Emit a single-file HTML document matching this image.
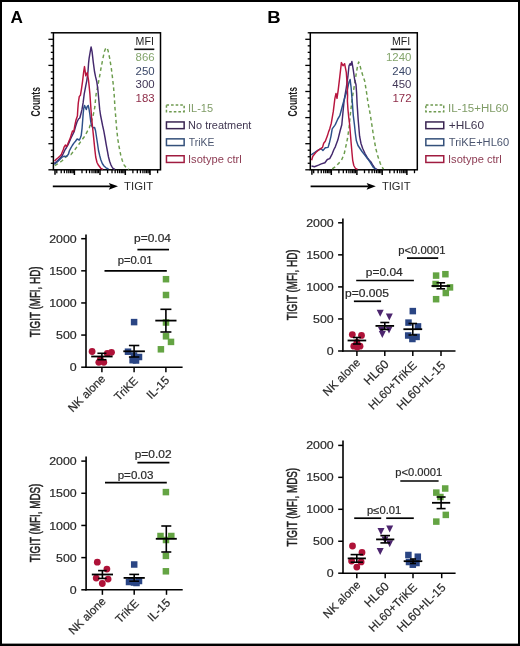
<!DOCTYPE html>
<html><head><meta charset="utf-8"><style>
html,body{margin:0;padding:0;background:#fff;}
svg{display:block;filter:grayscale(0);font-family:"Liberation Sans",sans-serif;}
</style></head><body>
<svg width="520" height="646" viewBox="0 0 520 646">
<rect width="520" height="646" fill="#fff"/>
<rect x="1" y="1" width="518" height="644" fill="none" stroke="#000" stroke-width="2"/>
<rect x="0" y="643.6" width="520" height="2.4" fill="#000"/>
<text transform="translate(10.57,23.10) scale(0.9921,1)" font-size="17.3" font-weight="bold" fill="#000">A</text>
<text transform="translate(267.20,23.10) scale(1.0708,1)" font-size="17.3" font-weight="bold" fill="#000">B</text>
<rect x="53.40" y="32.80" width="107.10" height="137.00" fill="none" stroke="#000" stroke-width="1.5"/>
<line x1="48.40" y1="169.80" x2="53.40" y2="169.80" stroke="#000" stroke-width="1.3" />
<line x1="50.80" y1="163.28" x2="53.40" y2="163.28" stroke="#000" stroke-width="1.3" />
<line x1="50.80" y1="156.75" x2="53.40" y2="156.75" stroke="#000" stroke-width="1.3" />
<line x1="50.80" y1="150.23" x2="53.40" y2="150.23" stroke="#000" stroke-width="1.3" />
<line x1="48.40" y1="143.70" x2="53.40" y2="143.70" stroke="#000" stroke-width="1.3" />
<line x1="50.80" y1="137.18" x2="53.40" y2="137.18" stroke="#000" stroke-width="1.3" />
<line x1="50.80" y1="130.65" x2="53.40" y2="130.65" stroke="#000" stroke-width="1.3" />
<line x1="50.80" y1="124.13" x2="53.40" y2="124.13" stroke="#000" stroke-width="1.3" />
<line x1="48.40" y1="117.60" x2="53.40" y2="117.60" stroke="#000" stroke-width="1.3" />
<line x1="50.80" y1="111.08" x2="53.40" y2="111.08" stroke="#000" stroke-width="1.3" />
<line x1="50.80" y1="104.55" x2="53.40" y2="104.55" stroke="#000" stroke-width="1.3" />
<line x1="50.80" y1="98.03" x2="53.40" y2="98.03" stroke="#000" stroke-width="1.3" />
<line x1="48.40" y1="91.50" x2="53.40" y2="91.50" stroke="#000" stroke-width="1.3" />
<line x1="50.80" y1="84.98" x2="53.40" y2="84.98" stroke="#000" stroke-width="1.3" />
<line x1="50.80" y1="78.45" x2="53.40" y2="78.45" stroke="#000" stroke-width="1.3" />
<line x1="50.80" y1="71.93" x2="53.40" y2="71.93" stroke="#000" stroke-width="1.3" />
<line x1="48.40" y1="65.40" x2="53.40" y2="65.40" stroke="#000" stroke-width="1.3" />
<line x1="50.80" y1="58.88" x2="53.40" y2="58.88" stroke="#000" stroke-width="1.3" />
<line x1="50.80" y1="52.35" x2="53.40" y2="52.35" stroke="#000" stroke-width="1.3" />
<line x1="50.80" y1="45.83" x2="53.40" y2="45.83" stroke="#000" stroke-width="1.3" />
<line x1="48.40" y1="39.30" x2="53.40" y2="39.30" stroke="#000" stroke-width="1.3" />
<line x1="50.80" y1="32.78" x2="53.40" y2="32.78" stroke="#000" stroke-width="1.3" />
<line x1="55.00" y1="169.80" x2="55.00" y2="174.80" stroke="#000" stroke-width="1.5" />
<line x1="56.79" y1="169.80" x2="56.79" y2="173.20" stroke="#000" stroke-width="1.3" />
<line x1="61.22" y1="169.80" x2="61.22" y2="173.20" stroke="#000" stroke-width="1.3" />
<line x1="64.37" y1="169.80" x2="64.37" y2="173.20" stroke="#000" stroke-width="1.3" />
<line x1="66.81" y1="169.80" x2="66.81" y2="173.20" stroke="#000" stroke-width="1.3" />
<line x1="68.81" y1="169.80" x2="68.81" y2="173.20" stroke="#000" stroke-width="1.3" />
<line x1="70.50" y1="169.80" x2="70.50" y2="173.20" stroke="#000" stroke-width="1.3" />
<line x1="71.96" y1="169.80" x2="71.96" y2="173.20" stroke="#000" stroke-width="1.3" />
<line x1="73.25" y1="169.80" x2="73.25" y2="173.20" stroke="#000" stroke-width="1.3" />
<line x1="74.40" y1="169.80" x2="74.40" y2="175.00" stroke="#000" stroke-width="1.5" />
<line x1="81.99" y1="169.80" x2="81.99" y2="173.20" stroke="#000" stroke-width="1.3" />
<line x1="86.42" y1="169.80" x2="86.42" y2="173.20" stroke="#000" stroke-width="1.3" />
<line x1="89.57" y1="169.80" x2="89.57" y2="173.20" stroke="#000" stroke-width="1.3" />
<line x1="92.01" y1="169.80" x2="92.01" y2="173.20" stroke="#000" stroke-width="1.3" />
<line x1="94.01" y1="169.80" x2="94.01" y2="173.20" stroke="#000" stroke-width="1.3" />
<line x1="95.70" y1="169.80" x2="95.70" y2="173.20" stroke="#000" stroke-width="1.3" />
<line x1="97.16" y1="169.80" x2="97.16" y2="173.20" stroke="#000" stroke-width="1.3" />
<line x1="98.45" y1="169.80" x2="98.45" y2="173.20" stroke="#000" stroke-width="1.3" />
<line x1="100.00" y1="169.80" x2="100.00" y2="175.00" stroke="#000" stroke-width="1.5" />
<line x1="107.59" y1="169.80" x2="107.59" y2="173.20" stroke="#000" stroke-width="1.3" />
<line x1="112.02" y1="169.80" x2="112.02" y2="173.20" stroke="#000" stroke-width="1.3" />
<line x1="115.17" y1="169.80" x2="115.17" y2="173.20" stroke="#000" stroke-width="1.3" />
<line x1="117.61" y1="169.80" x2="117.61" y2="173.20" stroke="#000" stroke-width="1.3" />
<line x1="119.61" y1="169.80" x2="119.61" y2="173.20" stroke="#000" stroke-width="1.3" />
<line x1="121.30" y1="169.80" x2="121.30" y2="173.20" stroke="#000" stroke-width="1.3" />
<line x1="122.76" y1="169.80" x2="122.76" y2="173.20" stroke="#000" stroke-width="1.3" />
<line x1="124.05" y1="169.80" x2="124.05" y2="173.20" stroke="#000" stroke-width="1.3" />
<line x1="125.30" y1="169.80" x2="125.30" y2="175.00" stroke="#000" stroke-width="1.5" />
<line x1="132.89" y1="169.80" x2="132.89" y2="173.20" stroke="#000" stroke-width="1.3" />
<line x1="137.32" y1="169.80" x2="137.32" y2="173.20" stroke="#000" stroke-width="1.3" />
<line x1="140.47" y1="169.80" x2="140.47" y2="173.20" stroke="#000" stroke-width="1.3" />
<line x1="142.91" y1="169.80" x2="142.91" y2="173.20" stroke="#000" stroke-width="1.3" />
<line x1="144.91" y1="169.80" x2="144.91" y2="173.20" stroke="#000" stroke-width="1.3" />
<line x1="146.60" y1="169.80" x2="146.60" y2="173.20" stroke="#000" stroke-width="1.3" />
<line x1="148.06" y1="169.80" x2="148.06" y2="173.20" stroke="#000" stroke-width="1.3" />
<line x1="149.35" y1="169.80" x2="149.35" y2="173.20" stroke="#000" stroke-width="1.3" />
<line x1="150.00" y1="169.80" x2="150.00" y2="175.00" stroke="#000" stroke-width="1.5" />
<line x1="157.59" y1="169.80" x2="157.59" y2="173.20" stroke="#000" stroke-width="1.3" />
<polyline points="54.8,165.6 58.3,163.5 61.8,161.0 64.5,158.6 67.0,155.8 70.9,154.6 74.8,149.7 78.7,144.5 81.5,140.5 84.3,136.7 86.8,132.3 89.3,127.8 91.0,122.8 92.6,117.8 93.8,112.3 94.9,106.7 95.5,100.0 96.1,94.2 97.2,89.0 98.3,83.4 99.7,75.8 101.0,68.2 102.7,59.5 104.3,51.9 105.4,49.0 106.5,47.6 107.3,48.5 108.1,50.8 109.7,58.4 111.3,68.2 112.4,76.9 113.5,86.6 114.3,96.4 114.9,107.2 115.6,115.4 116.5,127.0 117.7,138.5 119.2,147.5 120.8,155.4 122.3,160.5 123.8,164.6 125.5,166.8 127.0,168.5 129.0,169.3" fill="none" stroke="#6b9c4c" stroke-width="1.45" stroke-linejoin="round" stroke-linecap="butt" stroke-dasharray="3.6,2.9"/>
<polyline points="54.0,163.5 56.7,161.5 59.5,158.7 61.8,156.3 63.3,153.5 64.8,150.1 66.5,147.5 68.0,145.0 69.5,141.5 71.0,138.0 72.5,135.0 74.0,132.0 75.4,127.0 77.0,122.0 78.5,119.0 79.8,118.0 81.0,113.5 82.0,109.4 83.1,102.9 84.2,94.2 85.8,85.6 86.9,80.1 88.0,71.5 88.6,62.8 89.1,58.4 90.2,51.9 91.1,47.0 92.1,51.9 93.2,61.7 94.5,71.5 95.6,76.9 96.7,81.2 97.8,88.8 98.9,100.7 99.7,109.4 100.5,115.0 101.5,120.0 102.6,125.5 103.8,130.8 105.0,137.5 106.2,144.6 107.4,151.0 108.5,157.0 109.7,161.5 110.8,164.6 112.0,166.8 113.0,168.3 115.0,169.3" fill="none" stroke="#44296d" stroke-width="1.45" stroke-linejoin="round" stroke-linecap="butt"/>
<polyline points="54.3,164.4 56.0,163.0 57.8,161.5 59.8,159.5 61.8,157.5 63.3,156.5 64.7,156.3 66.0,156.6 67.2,155.8 68.5,154.0 69.3,151.0 70.9,147.9 72.3,145.5 73.7,143.4 75.5,141.2 77.1,139.0 78.2,139.5 79.3,140.1 80.3,138.0 81.2,135.6 82.1,127.8 82.7,120.0 83.2,113.4 83.8,108.0 84.5,105.4 85.4,107.5 86.3,109.5 87.2,106.5 88.2,105.4 89.0,109.0 89.8,114.0 90.6,120.5 91.5,125.6 92.5,127.2 93.8,127.8 94.6,127.5 95.5,130.5 96.5,137.0 97.5,143.5 98.5,150.5 99.8,156.0 100.8,159.8 102.3,163.5 104.0,166.0 106.0,167.8 108.5,169.0" fill="none" stroke="#2d508a" stroke-width="1.45" stroke-linejoin="round" stroke-linecap="butt"/>
<polyline points="54.5,161.0 56.5,159.0 58.4,157.5 60.0,156.0 61.3,154.5 62.3,152.0 63.3,149.5 64.2,146.8 65.5,145.0 66.5,146.5 67.6,144.5 69.0,141.0 70.4,137.9 71.5,134.0 72.5,131.0 73.8,131.5 74.8,125.6 76.0,120.0 77.4,116.0 77.8,109.4 78.3,102.9 79.3,96.4 80.4,95.3 81.5,88.8 82.6,81.2 83.7,71.5 84.5,66.6 85.8,75.8 87.3,72.5 88.5,80.0 89.1,85.6 89.9,94.0 90.6,104.0 91.5,116.7 93.2,133.4 94.9,150.1 95.7,157.0 97.0,162.5 98.5,165.3 100.8,168.3 103.0,169.3" fill="none" stroke="#b8153e" stroke-width="1.45" stroke-linejoin="round" stroke-linecap="butt"/>
<text transform="translate(39.80,116.44) rotate(-90) scale(0.6318,1)" font-size="13.5" font-weight="bold" fill="#1a1a1a">Counts</text>
<text transform="translate(135.62,45.30) scale(1.0000,1)" font-size="10.6" font-weight="normal" fill="#222">MFI</text>
<line x1="134.30" y1="49.30" x2="154.30" y2="49.30" stroke="#111" stroke-width="1.6" />
<text transform="translate(135.60,61.40) scale(1.0600,1)" font-size="10.8" font-weight="normal" fill="#84a56c">866</text>
<text transform="translate(135.54,74.85) scale(1.0600,1)" font-size="10.8" font-weight="normal" fill="#3a4768">250</text>
<text transform="translate(135.54,88.30) scale(1.0600,1)" font-size="10.8" font-weight="normal" fill="#403556">300</text>
<text transform="translate(135.60,101.75) scale(1.0600,1)" font-size="10.8" font-weight="normal" fill="#8e2c48">183</text>
<line x1="52.80" y1="186.30" x2="110.80" y2="186.30" stroke="#000" stroke-width="1.7" />
<polygon points="108.80,183.0 118.00,186.3 108.80,189.8 110.60,186.3" fill="#000"/>
<text transform="translate(124.07,189.50) scale(1.0338,1)" font-size="11.0" font-weight="normal" fill="#2a2a2a">TIGIT</text>
<rect x="166.45" y="105.05" width="17.70" height="6.7" fill="none" stroke="#6f9a50" stroke-width="1.5" stroke-dasharray="2.6,2"/>
<text transform="translate(188.01,112.30) scale(1.0021,1)" font-size="11.0" font-weight="normal" fill="#7f9c66">IL-15</text>
<rect x="166.45" y="121.95" width="17.70" height="6.7" fill="none" stroke="#3a2552" stroke-width="1.5"/>
<text transform="translate(188.12,129.20) scale(0.9961,1)" font-size="11.0" font-weight="normal" fill="#3f3550">No treatment</text>
<rect x="166.45" y="138.85" width="17.70" height="6.7" fill="none" stroke="#34507a" stroke-width="1.5"/>
<text transform="translate(188.79,146.10) scale(0.9432,1)" font-size="11.0" font-weight="normal" fill="#4b5670">TriKE</text>
<rect x="166.45" y="155.75" width="17.70" height="6.7" fill="none" stroke="#a01c40" stroke-width="1.5"/>
<text transform="translate(188.00,163.00) scale(1.0120,1)" font-size="11.0" font-weight="normal" fill="#8c3a52">Isotype ctrl</text>
<rect x="310.30" y="32.80" width="107.00" height="137.00" fill="none" stroke="#000" stroke-width="1.5"/>
<line x1="305.30" y1="169.80" x2="310.30" y2="169.80" stroke="#000" stroke-width="1.3" />
<line x1="307.70" y1="163.28" x2="310.30" y2="163.28" stroke="#000" stroke-width="1.3" />
<line x1="307.70" y1="156.75" x2="310.30" y2="156.75" stroke="#000" stroke-width="1.3" />
<line x1="307.70" y1="150.23" x2="310.30" y2="150.23" stroke="#000" stroke-width="1.3" />
<line x1="305.30" y1="143.70" x2="310.30" y2="143.70" stroke="#000" stroke-width="1.3" />
<line x1="307.70" y1="137.18" x2="310.30" y2="137.18" stroke="#000" stroke-width="1.3" />
<line x1="307.70" y1="130.65" x2="310.30" y2="130.65" stroke="#000" stroke-width="1.3" />
<line x1="307.70" y1="124.13" x2="310.30" y2="124.13" stroke="#000" stroke-width="1.3" />
<line x1="305.30" y1="117.60" x2="310.30" y2="117.60" stroke="#000" stroke-width="1.3" />
<line x1="307.70" y1="111.08" x2="310.30" y2="111.08" stroke="#000" stroke-width="1.3" />
<line x1="307.70" y1="104.55" x2="310.30" y2="104.55" stroke="#000" stroke-width="1.3" />
<line x1="307.70" y1="98.03" x2="310.30" y2="98.03" stroke="#000" stroke-width="1.3" />
<line x1="305.30" y1="91.50" x2="310.30" y2="91.50" stroke="#000" stroke-width="1.3" />
<line x1="307.70" y1="84.98" x2="310.30" y2="84.98" stroke="#000" stroke-width="1.3" />
<line x1="307.70" y1="78.45" x2="310.30" y2="78.45" stroke="#000" stroke-width="1.3" />
<line x1="307.70" y1="71.93" x2="310.30" y2="71.93" stroke="#000" stroke-width="1.3" />
<line x1="305.30" y1="65.40" x2="310.30" y2="65.40" stroke="#000" stroke-width="1.3" />
<line x1="307.70" y1="58.88" x2="310.30" y2="58.88" stroke="#000" stroke-width="1.3" />
<line x1="307.70" y1="52.35" x2="310.30" y2="52.35" stroke="#000" stroke-width="1.3" />
<line x1="307.70" y1="45.83" x2="310.30" y2="45.83" stroke="#000" stroke-width="1.3" />
<line x1="305.30" y1="39.30" x2="310.30" y2="39.30" stroke="#000" stroke-width="1.3" />
<line x1="307.70" y1="32.78" x2="310.30" y2="32.78" stroke="#000" stroke-width="1.3" />
<line x1="311.90" y1="169.80" x2="311.90" y2="174.80" stroke="#000" stroke-width="1.5" />
<line x1="313.69" y1="169.80" x2="313.69" y2="173.20" stroke="#000" stroke-width="1.3" />
<line x1="318.12" y1="169.80" x2="318.12" y2="173.20" stroke="#000" stroke-width="1.3" />
<line x1="321.27" y1="169.80" x2="321.27" y2="173.20" stroke="#000" stroke-width="1.3" />
<line x1="323.71" y1="169.80" x2="323.71" y2="173.20" stroke="#000" stroke-width="1.3" />
<line x1="325.71" y1="169.80" x2="325.71" y2="173.20" stroke="#000" stroke-width="1.3" />
<line x1="327.40" y1="169.80" x2="327.40" y2="173.20" stroke="#000" stroke-width="1.3" />
<line x1="328.86" y1="169.80" x2="328.86" y2="173.20" stroke="#000" stroke-width="1.3" />
<line x1="330.15" y1="169.80" x2="330.15" y2="173.20" stroke="#000" stroke-width="1.3" />
<line x1="331.30" y1="169.80" x2="331.30" y2="175.00" stroke="#000" stroke-width="1.5" />
<line x1="338.89" y1="169.80" x2="338.89" y2="173.20" stroke="#000" stroke-width="1.3" />
<line x1="343.32" y1="169.80" x2="343.32" y2="173.20" stroke="#000" stroke-width="1.3" />
<line x1="346.47" y1="169.80" x2="346.47" y2="173.20" stroke="#000" stroke-width="1.3" />
<line x1="348.91" y1="169.80" x2="348.91" y2="173.20" stroke="#000" stroke-width="1.3" />
<line x1="350.91" y1="169.80" x2="350.91" y2="173.20" stroke="#000" stroke-width="1.3" />
<line x1="352.60" y1="169.80" x2="352.60" y2="173.20" stroke="#000" stroke-width="1.3" />
<line x1="354.06" y1="169.80" x2="354.06" y2="173.20" stroke="#000" stroke-width="1.3" />
<line x1="355.35" y1="169.80" x2="355.35" y2="173.20" stroke="#000" stroke-width="1.3" />
<line x1="356.90" y1="169.80" x2="356.90" y2="175.00" stroke="#000" stroke-width="1.5" />
<line x1="364.49" y1="169.80" x2="364.49" y2="173.20" stroke="#000" stroke-width="1.3" />
<line x1="368.92" y1="169.80" x2="368.92" y2="173.20" stroke="#000" stroke-width="1.3" />
<line x1="372.07" y1="169.80" x2="372.07" y2="173.20" stroke="#000" stroke-width="1.3" />
<line x1="374.51" y1="169.80" x2="374.51" y2="173.20" stroke="#000" stroke-width="1.3" />
<line x1="376.51" y1="169.80" x2="376.51" y2="173.20" stroke="#000" stroke-width="1.3" />
<line x1="378.20" y1="169.80" x2="378.20" y2="173.20" stroke="#000" stroke-width="1.3" />
<line x1="379.66" y1="169.80" x2="379.66" y2="173.20" stroke="#000" stroke-width="1.3" />
<line x1="380.95" y1="169.80" x2="380.95" y2="173.20" stroke="#000" stroke-width="1.3" />
<line x1="382.20" y1="169.80" x2="382.20" y2="175.00" stroke="#000" stroke-width="1.5" />
<line x1="389.79" y1="169.80" x2="389.79" y2="173.20" stroke="#000" stroke-width="1.3" />
<line x1="394.22" y1="169.80" x2="394.22" y2="173.20" stroke="#000" stroke-width="1.3" />
<line x1="397.37" y1="169.80" x2="397.37" y2="173.20" stroke="#000" stroke-width="1.3" />
<line x1="399.81" y1="169.80" x2="399.81" y2="173.20" stroke="#000" stroke-width="1.3" />
<line x1="401.81" y1="169.80" x2="401.81" y2="173.20" stroke="#000" stroke-width="1.3" />
<line x1="403.50" y1="169.80" x2="403.50" y2="173.20" stroke="#000" stroke-width="1.3" />
<line x1="404.96" y1="169.80" x2="404.96" y2="173.20" stroke="#000" stroke-width="1.3" />
<line x1="406.25" y1="169.80" x2="406.25" y2="173.20" stroke="#000" stroke-width="1.3" />
<line x1="406.90" y1="169.80" x2="406.90" y2="175.00" stroke="#000" stroke-width="1.5" />
<line x1="414.49" y1="169.80" x2="414.49" y2="173.20" stroke="#000" stroke-width="1.3" />
<polyline points="332.2,168.9 335.4,166.7 338.6,163.5 341.8,159.5 344.2,153.8 345.8,146.6 347.5,138.5 349.0,128.0 350.5,113.0 352.2,98.4 354.4,85.4 356.6,71.3 357.7,65.5 358.7,62.0 359.8,65.0 360.9,69.1 362.5,74.5 364.7,81.0 366.3,90.8 368.0,102.7 370.1,113.6 371.8,124.4 373.5,136.0 375.8,148.5 377.3,154.5 378.8,159.2 380.3,163.5 381.9,166.9 383.5,169.2" fill="none" stroke="#6b9c4c" stroke-width="1.45" stroke-linejoin="round" stroke-linecap="butt" stroke-dasharray="3.6,2.9"/>
<polyline points="311.5,166.0 314.4,166.7 318.5,165.1 321.3,163.9 324.9,162.7 327.3,159.5 329.7,158.6 332.2,153.8 333.8,149.8 335.4,146.6 337.8,140.1 340.2,130.5 341.8,124.8 343.0,112.0 344.1,100.6 346.3,87.5 347.9,76.7 349.0,65.8 350.1,63.7 350.8,65.3 351.9,61.5 353.3,70.2 354.7,80.0 356.0,84.8 356.6,93.0 357.1,103.8 358.2,120.0 359.6,136.2 361.0,143.5 362.7,148.5 365.0,153.5 367.3,157.7 369.3,160.3 371.2,162.3 373.0,165.5 375.0,168.3 377.0,169.3" fill="none" stroke="#44296d" stroke-width="1.45" stroke-linejoin="round" stroke-linecap="butt"/>
<polyline points="311.2,155.0 313.0,153.5 315.2,152.2 318.5,149.8 320.9,148.6 322.9,150.6 325.3,147.8 328.1,147.4 329.3,143.3 331.0,136.1 332.2,128.9 334.6,125.6 335.4,124.4 337.8,119.0 339.8,115.7 343.0,103.8 345.2,96.2 347.4,89.7 349.0,82.1 350.1,79.4 351.1,87.5 352.2,100.6 353.3,115.7 354.4,124.4 355.3,133.0 356.3,140.5 358.0,145.5 360.0,148.5 362.0,151.5 365.0,155.2 368.0,159.2 370.5,162.8 373.3,167.5 375.8,169.2" fill="none" stroke="#2d508a" stroke-width="1.45" stroke-linejoin="round" stroke-linecap="butt"/>
<polyline points="311.6,160.3 312.8,156.2 316.0,152.2 319.0,149.8 322.5,147.4 323.7,143.3 325.3,141.3 327.3,136.1 328.5,132.1 329.7,128.9 331.3,123.2 333.3,111.4 334.9,98.4 336.0,93.5 337.0,98.4 338.1,90.8 339.8,76.7 341.4,62.6 343.0,65.8 344.6,63.7 346.3,72.4 347.2,85.0 347.6,95.0 347.4,101.0 348.0,110.0 348.8,118.0 349.6,124.0 350.4,134.0 351.2,143.8 352.0,153.0 352.7,160.3 353.8,165.5 355.5,168.5 357.5,169.3" fill="none" stroke="#b8153e" stroke-width="1.45" stroke-linejoin="round" stroke-linecap="butt"/>
<text transform="translate(296.50,116.44) rotate(-90) scale(0.6318,1)" font-size="13.5" font-weight="bold" fill="#1a1a1a">Counts</text>
<text transform="translate(392.02,45.30) scale(1.0000,1)" font-size="10.6" font-weight="normal" fill="#222">MFI</text>
<line x1="390.70" y1="49.30" x2="410.70" y2="49.30" stroke="#111" stroke-width="1.6" />
<text transform="translate(385.93,61.40) scale(1.0600,1)" font-size="10.8" font-weight="normal" fill="#84a56c">1240</text>
<text transform="translate(392.34,74.85) scale(1.0600,1)" font-size="10.8" font-weight="normal" fill="#3a4768">240</text>
<text transform="translate(392.34,88.30) scale(1.0600,1)" font-size="10.8" font-weight="normal" fill="#403556">450</text>
<text transform="translate(392.51,101.75) scale(1.0600,1)" font-size="10.8" font-weight="normal" fill="#8e2c48">172</text>
<line x1="310.60" y1="186.30" x2="368.60" y2="186.30" stroke="#000" stroke-width="1.7" />
<polygon points="366.60,183.0 375.80,186.3 366.60,189.8 368.40,186.3" fill="#000"/>
<text transform="translate(381.88,189.50) scale(1.0193,1)" font-size="11.0" font-weight="normal" fill="#2a2a2a">TIGIT</text>
<rect x="425.85" y="105.05" width="17.90" height="6.7" fill="none" stroke="#6f9a50" stroke-width="1.5" stroke-dasharray="2.6,2"/>
<text transform="translate(447.96,112.30) scale(1.0455,1)" font-size="11.0" font-weight="normal" fill="#7f9c66">IL-15+HL60</text>
<rect x="425.85" y="121.95" width="17.90" height="6.7" fill="none" stroke="#3a2552" stroke-width="1.5"/>
<text transform="translate(448.70,129.20) scale(1.0821,1)" font-size="11.0" font-weight="normal" fill="#3f3550">+HL60</text>
<rect x="425.85" y="138.85" width="17.90" height="6.7" fill="none" stroke="#34507a" stroke-width="1.5"/>
<text transform="translate(448.78,146.10) scale(1.0105,1)" font-size="11.0" font-weight="normal" fill="#4b5670">TriKE+HL60</text>
<rect x="425.85" y="155.75" width="17.90" height="6.7" fill="none" stroke="#a01c40" stroke-width="1.5"/>
<text transform="translate(448.00,163.00) scale(1.0120,1)" font-size="11.0" font-weight="normal" fill="#8c3a52">Isotype ctrl</text>
<line x1="86.00" y1="234.60" x2="86.00" y2="368.00" stroke="#000" stroke-width="1.6" />
<line x1="85.20" y1="367.20" x2="182.60" y2="367.20" stroke="#000" stroke-width="1.6" />
<line x1="81.20" y1="367.20" x2="86.00" y2="367.20" stroke="#000" stroke-width="1.5" />
<text transform="translate(69.86,371.25) scale(1.1800,1)" font-size="10.5" font-weight="normal" fill="#2a2a2a" stroke="#2a2a2a" stroke-width="0.2" stroke-linejoin="round">0</text>
<line x1="81.20" y1="335.07" x2="86.00" y2="335.07" stroke="#000" stroke-width="1.5" />
<text transform="translate(56.10,339.12) scale(1.1800,1)" font-size="10.5" font-weight="normal" fill="#2a2a2a" stroke="#2a2a2a" stroke-width="0.2" stroke-linejoin="round">500</text>
<line x1="81.20" y1="302.95" x2="86.00" y2="302.95" stroke="#000" stroke-width="1.5" />
<text transform="translate(49.17,307.00) scale(1.1800,1)" font-size="10.5" font-weight="normal" fill="#2a2a2a" stroke="#2a2a2a" stroke-width="0.2" stroke-linejoin="round">1000</text>
<line x1="81.20" y1="270.82" x2="86.00" y2="270.82" stroke="#000" stroke-width="1.5" />
<text transform="translate(49.17,274.88) scale(1.1800,1)" font-size="10.5" font-weight="normal" fill="#2a2a2a" stroke="#2a2a2a" stroke-width="0.2" stroke-linejoin="round">1500</text>
<line x1="81.20" y1="238.70" x2="86.00" y2="238.70" stroke="#000" stroke-width="1.5" />
<text transform="translate(49.17,242.75) scale(1.1800,1)" font-size="10.5" font-weight="normal" fill="#2a2a2a" stroke="#2a2a2a" stroke-width="0.2" stroke-linejoin="round">2000</text>
<line x1="101.90" y1="367.20" x2="101.90" y2="372.20" stroke="#000" stroke-width="1.5" />
<line x1="134.10" y1="367.20" x2="134.10" y2="372.20" stroke="#000" stroke-width="1.5" />
<line x1="165.90" y1="367.20" x2="165.90" y2="372.20" stroke="#000" stroke-width="1.5" />
<text transform="translate(40.00,337.20) rotate(-90) scale(0.7022,1)" font-size="14" font-weight="normal" fill="#222" stroke="#222" stroke-width="0.5" stroke-linejoin="round">TIGIT (MFI, HD)</text>
<text transform="translate(105.81,379.71) rotate(-45) translate(-46.89,0)" font-size="11.52" fill="#2a2a2a" stroke="#2a2a2a" stroke-width="0.2" stroke-linejoin="round">NK alone</text>
<text transform="translate(138.31,381.86) rotate(-45) translate(-27.51,0)" font-size="11.37" fill="#2a2a2a" stroke="#2a2a2a" stroke-width="0.2" stroke-linejoin="round">TriKE</text>
<text transform="translate(169.72,381.32) rotate(-45) translate(-26.11,0)" font-size="11.66" fill="#2a2a2a" stroke="#2a2a2a" stroke-width="0.2" stroke-linejoin="round">IL-15</text>
<circle cx="92.10" cy="351.50" r="3.4" fill="#ae1238"/>
<circle cx="107.30" cy="353.50" r="3.4" fill="#ae1238"/>
<circle cx="111.50" cy="352.30" r="3.4" fill="#ae1238"/>
<circle cx="100.40" cy="359.20" r="3.4" fill="#ae1238"/>
<circle cx="98.80" cy="362.30" r="3.4" fill="#ae1238"/>
<circle cx="103.80" cy="362.30" r="3.4" fill="#ae1238"/>
<line x1="91.20" y1="356.50" x2="112.60" y2="356.50" stroke="#000" stroke-width="1.8" />
<line x1="101.90" y1="353.30" x2="101.90" y2="359.70" stroke="#000" stroke-width="1.6" />
<line x1="97.40" y1="353.30" x2="106.40" y2="353.30" stroke="#000" stroke-width="1.6" />
<line x1="97.40" y1="359.70" x2="106.40" y2="359.70" stroke="#000" stroke-width="1.6" />
<rect x="130.85" y="318.85" width="6.5" height="6.5" fill="#2a4584"/>
<rect x="124.75" y="348.45" width="6.5" height="6.5" fill="#2a4584"/>
<rect x="130.75" y="352.25" width="6.5" height="6.5" fill="#2a4584"/>
<rect x="135.75" y="353.75" width="6.5" height="6.5" fill="#2a4584"/>
<rect x="129.35" y="356.95" width="6.5" height="6.5" fill="#2a4584"/>
<rect x="132.75" y="357.25" width="6.5" height="6.5" fill="#2a4584"/>
<line x1="123.30" y1="351.30" x2="144.90" y2="351.30" stroke="#000" stroke-width="1.8" />
<line x1="134.10" y1="345.50" x2="134.10" y2="357.00" stroke="#000" stroke-width="1.6" />
<line x1="128.90" y1="345.50" x2="139.30" y2="345.50" stroke="#000" stroke-width="1.6" />
<line x1="128.90" y1="357.00" x2="139.30" y2="357.00" stroke="#000" stroke-width="1.6" />
<rect x="162.75" y="275.95" width="6.5" height="6.5" fill="#64a443"/>
<rect x="162.75" y="291.75" width="6.5" height="6.5" fill="#64a443"/>
<rect x="162.75" y="319.25" width="6.5" height="6.5" fill="#64a443"/>
<rect x="162.75" y="333.05" width="6.5" height="6.5" fill="#64a443"/>
<rect x="167.75" y="338.65" width="6.5" height="6.5" fill="#64a443"/>
<rect x="157.65" y="346.05" width="6.5" height="6.5" fill="#64a443"/>
<line x1="155.30" y1="320.60" x2="176.50" y2="320.60" stroke="#000" stroke-width="1.8" />
<line x1="165.90" y1="309.30" x2="165.90" y2="332.00" stroke="#000" stroke-width="1.6" />
<line x1="160.40" y1="309.30" x2="171.40" y2="309.30" stroke="#000" stroke-width="1.6" />
<line x1="160.40" y1="332.00" x2="171.40" y2="332.00" stroke="#000" stroke-width="1.6" />
<text transform="translate(134.12,242.20) scale(1.1592,1)" font-size="10.3" font-weight="normal" fill="#2a2a2a" stroke="#2a2a2a" stroke-width="0.2" stroke-linejoin="round">p=0.04</text>
<line x1="137.40" y1="249.60" x2="169.00" y2="249.60" stroke="#000" stroke-width="1.7" />
<text transform="translate(117.66,263.60) scale(1.0998,1)" font-size="10.3" font-weight="normal" fill="#2a2a2a" stroke="#2a2a2a" stroke-width="0.2" stroke-linejoin="round">p=0.01</text>
<line x1="104.50" y1="270.80" x2="166.80" y2="270.80" stroke="#000" stroke-width="1.7" />
<line x1="86.10" y1="456.40" x2="86.10" y2="590.60" stroke="#000" stroke-width="1.6" />
<line x1="85.30" y1="589.80" x2="182.70" y2="589.80" stroke="#000" stroke-width="1.6" />
<line x1="81.30" y1="589.80" x2="86.10" y2="589.80" stroke="#000" stroke-width="1.5" />
<text transform="translate(69.86,593.85) scale(1.1800,1)" font-size="10.5" font-weight="normal" fill="#2a2a2a" stroke="#2a2a2a" stroke-width="0.2" stroke-linejoin="round">0</text>
<line x1="81.30" y1="557.62" x2="86.10" y2="557.62" stroke="#000" stroke-width="1.5" />
<text transform="translate(56.10,561.67) scale(1.1800,1)" font-size="10.5" font-weight="normal" fill="#2a2a2a" stroke="#2a2a2a" stroke-width="0.2" stroke-linejoin="round">500</text>
<line x1="81.30" y1="525.45" x2="86.10" y2="525.45" stroke="#000" stroke-width="1.5" />
<text transform="translate(49.17,529.50) scale(1.1800,1)" font-size="10.5" font-weight="normal" fill="#2a2a2a" stroke="#2a2a2a" stroke-width="0.2" stroke-linejoin="round">1000</text>
<line x1="81.30" y1="493.27" x2="86.10" y2="493.27" stroke="#000" stroke-width="1.5" />
<text transform="translate(49.17,497.32) scale(1.1800,1)" font-size="10.5" font-weight="normal" fill="#2a2a2a" stroke="#2a2a2a" stroke-width="0.2" stroke-linejoin="round">1500</text>
<line x1="81.30" y1="461.10" x2="86.10" y2="461.10" stroke="#000" stroke-width="1.5" />
<text transform="translate(49.17,465.15) scale(1.1800,1)" font-size="10.5" font-weight="normal" fill="#2a2a2a" stroke="#2a2a2a" stroke-width="0.2" stroke-linejoin="round">2000</text>
<line x1="102.40" y1="589.80" x2="102.40" y2="594.80" stroke="#000" stroke-width="1.5" />
<line x1="134.20" y1="589.80" x2="134.20" y2="594.80" stroke="#000" stroke-width="1.5" />
<line x1="166.50" y1="589.80" x2="166.50" y2="594.80" stroke="#000" stroke-width="1.5" />
<text transform="translate(40.00,562.20) rotate(-90) scale(0.7034,1)" font-size="14" font-weight="normal" fill="#222" stroke="#222" stroke-width="0.5" stroke-linejoin="round">TIGIT (MFI, MDS)</text>
<text transform="translate(106.31,602.21) rotate(-45) translate(-46.89,0)" font-size="11.52" fill="#2a2a2a" stroke="#2a2a2a" stroke-width="0.2" stroke-linejoin="round">NK alone</text>
<text transform="translate(139.34,604.37) rotate(-45) translate(-27.46,0)" font-size="11.35" fill="#2a2a2a" stroke="#2a2a2a" stroke-width="0.2" stroke-linejoin="round">TriKE</text>
<text transform="translate(170.68,603.79) rotate(-45) translate(-26.23,0)" font-size="11.71" fill="#2a2a2a" stroke="#2a2a2a" stroke-width="0.2" stroke-linejoin="round">IL-15</text>
<circle cx="97.30" cy="562.20" r="3.4" fill="#ae1238"/>
<circle cx="106.90" cy="569.10" r="3.4" fill="#ae1238"/>
<circle cx="96.20" cy="578.10" r="3.4" fill="#ae1238"/>
<circle cx="108.10" cy="579.10" r="3.4" fill="#ae1238"/>
<circle cx="102.30" cy="583.50" r="3.4" fill="#ae1238"/>
<line x1="91.80" y1="574.50" x2="113.00" y2="574.50" stroke="#000" stroke-width="1.8" />
<line x1="102.40" y1="570.60" x2="102.40" y2="578.40" stroke="#000" stroke-width="1.6" />
<line x1="98.10" y1="570.60" x2="106.70" y2="570.60" stroke="#000" stroke-width="1.6" />
<line x1="98.10" y1="578.40" x2="106.70" y2="578.40" stroke="#000" stroke-width="1.6" />
<rect x="130.95" y="561.25" width="6.5" height="6.5" fill="#2a4584"/>
<rect x="125.75" y="578.75" width="6.5" height="6.5" fill="#2a4584"/>
<rect x="130.75" y="579.25" width="6.5" height="6.5" fill="#2a4584"/>
<rect x="135.75" y="577.75" width="6.5" height="6.5" fill="#2a4584"/>
<rect x="128.25" y="577.25" width="6.5" height="6.5" fill="#2a4584"/>
<rect x="133.25" y="579.75" width="6.5" height="6.5" fill="#2a4584"/>
<line x1="123.60" y1="577.90" x2="144.80" y2="577.90" stroke="#000" stroke-width="1.8" />
<line x1="134.20" y1="574.40" x2="134.20" y2="581.20" stroke="#000" stroke-width="1.6" />
<line x1="129.30" y1="574.40" x2="139.10" y2="574.40" stroke="#000" stroke-width="1.6" />
<line x1="129.30" y1="581.20" x2="139.10" y2="581.20" stroke="#000" stroke-width="1.6" />
<rect x="162.65" y="488.85" width="6.5" height="6.5" fill="#64a443"/>
<rect x="157.25" y="532.75" width="6.5" height="6.5" fill="#64a443"/>
<rect x="168.05" y="532.75" width="6.5" height="6.5" fill="#64a443"/>
<rect x="162.65" y="552.65" width="6.5" height="6.5" fill="#64a443"/>
<rect x="162.65" y="568.05" width="6.5" height="6.5" fill="#64a443"/>
<rect x="162.75" y="536.75" width="6.5" height="6.5" fill="#64a443"/>
<line x1="155.80" y1="538.80" x2="176.80" y2="538.80" stroke="#000" stroke-width="1.8" />
<line x1="166.30" y1="526.00" x2="166.30" y2="552.00" stroke="#000" stroke-width="1.6" />
<line x1="161.30" y1="526.00" x2="171.30" y2="526.00" stroke="#000" stroke-width="1.6" />
<line x1="161.30" y1="552.00" x2="171.30" y2="552.00" stroke="#000" stroke-width="1.6" />
<text transform="translate(134.72,458.30) scale(1.1605,1)" font-size="10.3" font-weight="normal" fill="#2a2a2a" stroke="#2a2a2a" stroke-width="0.2" stroke-linejoin="round">p=0.02</text>
<line x1="137.40" y1="462.60" x2="169.40" y2="462.60" stroke="#000" stroke-width="1.7" />
<text transform="translate(117.65,478.60) scale(1.1273,1)" font-size="10.3" font-weight="normal" fill="#2a2a2a" stroke="#2a2a2a" stroke-width="0.2" stroke-linejoin="round">p=0.03</text>
<line x1="105.00" y1="482.70" x2="166.80" y2="482.70" stroke="#000" stroke-width="1.7" />
<line x1="342.90" y1="218.40" x2="342.90" y2="351.80" stroke="#000" stroke-width="1.6" />
<line x1="342.10" y1="351.00" x2="455.50" y2="351.00" stroke="#000" stroke-width="1.6" />
<line x1="338.10" y1="351.00" x2="342.90" y2="351.00" stroke="#000" stroke-width="1.5" />
<text transform="translate(326.86,355.05) scale(1.1800,1)" font-size="10.5" font-weight="normal" fill="#2a2a2a" stroke="#2a2a2a" stroke-width="0.2" stroke-linejoin="round">0</text>
<line x1="338.10" y1="318.95" x2="342.90" y2="318.95" stroke="#000" stroke-width="1.5" />
<text transform="translate(313.10,323.00) scale(1.1800,1)" font-size="10.5" font-weight="normal" fill="#2a2a2a" stroke="#2a2a2a" stroke-width="0.2" stroke-linejoin="round">500</text>
<line x1="338.10" y1="286.90" x2="342.90" y2="286.90" stroke="#000" stroke-width="1.5" />
<text transform="translate(306.17,290.95) scale(1.1800,1)" font-size="10.5" font-weight="normal" fill="#2a2a2a" stroke="#2a2a2a" stroke-width="0.2" stroke-linejoin="round">1000</text>
<line x1="338.10" y1="254.85" x2="342.90" y2="254.85" stroke="#000" stroke-width="1.5" />
<text transform="translate(306.17,258.90) scale(1.1800,1)" font-size="10.5" font-weight="normal" fill="#2a2a2a" stroke="#2a2a2a" stroke-width="0.2" stroke-linejoin="round">1500</text>
<line x1="338.10" y1="222.80" x2="342.90" y2="222.80" stroke="#000" stroke-width="1.5" />
<text transform="translate(306.17,226.85) scale(1.1800,1)" font-size="10.5" font-weight="normal" fill="#2a2a2a" stroke="#2a2a2a" stroke-width="0.2" stroke-linejoin="round">2000</text>
<line x1="356.90" y1="351.00" x2="356.90" y2="356.00" stroke="#000" stroke-width="1.5" />
<line x1="384.80" y1="351.00" x2="384.80" y2="356.00" stroke="#000" stroke-width="1.5" />
<line x1="412.80" y1="351.00" x2="412.80" y2="356.00" stroke="#000" stroke-width="1.5" />
<line x1="441.00" y1="351.00" x2="441.00" y2="356.00" stroke="#000" stroke-width="1.5" />
<text transform="translate(297.10,320.20) rotate(-90) scale(0.7022,1)" font-size="14" font-weight="normal" fill="#222" stroke="#222" stroke-width="0.5" stroke-linejoin="round">TIGIT (MFI, HD)</text>
<text transform="translate(360.72,363.58) rotate(-45) translate(-46.91,0)" font-size="11.53" fill="#2a2a2a" stroke="#2a2a2a" stroke-width="0.2" stroke-linejoin="round">NK alone</text>
<text transform="translate(389.19,365.34) rotate(-45) translate(-28.79,0)" font-size="12.23" fill="#2a2a2a" stroke="#2a2a2a" stroke-width="0.2" stroke-linejoin="round">HL60</text>
<text transform="translate(417.02,366.26) rotate(-45) translate(-62.21,0)" font-size="11.53" fill="#2a2a2a" stroke="#2a2a2a" stroke-width="0.2" stroke-linejoin="round">HL60+TriKE</text>
<text transform="translate(445.83,366.26) rotate(-45) translate(-62.79,0)" font-size="12.04" fill="#2a2a2a" stroke="#2a2a2a" stroke-width="0.2" stroke-linejoin="round">HL60+IL-15</text>
<circle cx="352.30" cy="334.60" r="3.4" fill="#ae1238"/>
<circle cx="361.50" cy="335.40" r="3.4" fill="#ae1238"/>
<circle cx="353.80" cy="346.20" r="3.4" fill="#ae1238"/>
<circle cx="360.00" cy="346.20" r="3.4" fill="#ae1238"/>
<circle cx="356.90" cy="342.30" r="3.4" fill="#ae1238"/>
<circle cx="357.20" cy="347.00" r="3.4" fill="#ae1238"/>
<line x1="347.60" y1="340.50" x2="366.20" y2="340.50" stroke="#000" stroke-width="1.8" />
<line x1="356.90" y1="337.50" x2="356.90" y2="344.00" stroke="#000" stroke-width="1.6" />
<line x1="352.90" y1="337.50" x2="360.90" y2="337.50" stroke="#000" stroke-width="1.6" />
<line x1="352.90" y1="344.00" x2="360.90" y2="344.00" stroke="#000" stroke-width="1.6" />
<polygon points="376.70,309.80 383.70,309.80 380.20,316.80" fill="#4c256e"/>
<polygon points="385.80,313.50 392.80,313.50 389.30,320.50" fill="#4c256e"/>
<polygon points="378.00,327.00 385.00,327.00 381.50,334.00" fill="#4c256e"/>
<polygon points="378.80,331.00 385.80,331.00 382.30,338.00" fill="#4c256e"/>
<polygon points="385.50,326.50 392.50,326.50 389.00,333.50" fill="#4c256e"/>
<line x1="375.50" y1="325.90" x2="394.10" y2="325.90" stroke="#000" stroke-width="1.8" />
<line x1="384.80" y1="322.50" x2="384.80" y2="329.50" stroke="#000" stroke-width="1.6" />
<line x1="380.30" y1="322.50" x2="389.30" y2="322.50" stroke="#000" stroke-width="1.6" />
<line x1="380.30" y1="329.50" x2="389.30" y2="329.50" stroke="#000" stroke-width="1.6" />
<rect x="409.55" y="307.85" width="6.5" height="6.5" fill="#2a4584"/>
<rect x="405.25" y="319.35" width="6.5" height="6.5" fill="#2a4584"/>
<rect x="414.75" y="323.15" width="6.5" height="6.5" fill="#2a4584"/>
<rect x="404.95" y="332.25" width="6.5" height="6.5" fill="#2a4584"/>
<rect x="413.35" y="333.65" width="6.5" height="6.5" fill="#2a4584"/>
<rect x="409.15" y="335.75" width="6.5" height="6.5" fill="#2a4584"/>
<line x1="403.40" y1="329.20" x2="422.20" y2="329.20" stroke="#000" stroke-width="1.8" />
<line x1="412.80" y1="323.50" x2="412.80" y2="335.00" stroke="#000" stroke-width="1.6" />
<line x1="408.50" y1="323.50" x2="417.10" y2="323.50" stroke="#000" stroke-width="1.6" />
<line x1="408.50" y1="335.00" x2="417.10" y2="335.00" stroke="#000" stroke-width="1.6" />
<rect x="432.85" y="272.35" width="6.5" height="6.5" fill="#64a443"/>
<rect x="442.15" y="270.95" width="6.5" height="6.5" fill="#64a443"/>
<rect x="432.35" y="280.75" width="6.5" height="6.5" fill="#64a443"/>
<rect x="446.75" y="284.15" width="6.5" height="6.5" fill="#64a443"/>
<rect x="442.55" y="289.75" width="6.5" height="6.5" fill="#64a443"/>
<rect x="432.85" y="295.95" width="6.5" height="6.5" fill="#64a443"/>
<line x1="431.50" y1="286.00" x2="450.10" y2="286.00" stroke="#000" stroke-width="1.8" />
<line x1="440.80" y1="282.80" x2="440.80" y2="288.80" stroke="#000" stroke-width="1.6" />
<line x1="436.50" y1="282.80" x2="445.10" y2="282.80" stroke="#000" stroke-width="1.6" />
<line x1="436.50" y1="288.80" x2="445.10" y2="288.80" stroke="#000" stroke-width="1.6" />
<text transform="translate(398.17,254.30) scale(1.0943,1)" font-size="10.3" font-weight="normal" fill="#2a2a2a" stroke="#2a2a2a" stroke-width="0.2" stroke-linejoin="round">p&lt;0.0001</text>
<line x1="407.00" y1="258.10" x2="438.20" y2="258.10" stroke="#000" stroke-width="1.7" />
<text transform="translate(365.82,276.20) scale(1.1625,1)" font-size="10.3" font-weight="normal" fill="#2a2a2a" stroke="#2a2a2a" stroke-width="0.2" stroke-linejoin="round">p=0.04</text>
<line x1="356.20" y1="280.50" x2="413.90" y2="280.50" stroke="#000" stroke-width="1.7" />
<text transform="translate(345.01,297.00) scale(1.1727,1)" font-size="10.3" font-weight="normal" fill="#2a2a2a" stroke="#2a2a2a" stroke-width="0.2" stroke-linejoin="round">p=0.005</text>
<line x1="353.90" y1="301.30" x2="381.10" y2="301.30" stroke="#000" stroke-width="1.7" />
<line x1="343.00" y1="440.40" x2="343.00" y2="574.00" stroke="#000" stroke-width="1.6" />
<line x1="342.20" y1="573.20" x2="455.60" y2="573.20" stroke="#000" stroke-width="1.6" />
<line x1="338.20" y1="573.20" x2="343.00" y2="573.20" stroke="#000" stroke-width="1.5" />
<text transform="translate(326.86,577.25) scale(1.1800,1)" font-size="10.5" font-weight="normal" fill="#2a2a2a" stroke="#2a2a2a" stroke-width="0.2" stroke-linejoin="round">0</text>
<line x1="338.20" y1="541.25" x2="343.00" y2="541.25" stroke="#000" stroke-width="1.5" />
<text transform="translate(313.10,545.30) scale(1.1800,1)" font-size="10.5" font-weight="normal" fill="#2a2a2a" stroke="#2a2a2a" stroke-width="0.2" stroke-linejoin="round">500</text>
<line x1="338.20" y1="509.30" x2="343.00" y2="509.30" stroke="#000" stroke-width="1.5" />
<text transform="translate(306.17,513.35) scale(1.1800,1)" font-size="10.5" font-weight="normal" fill="#2a2a2a" stroke="#2a2a2a" stroke-width="0.2" stroke-linejoin="round">1000</text>
<line x1="338.20" y1="477.35" x2="343.00" y2="477.35" stroke="#000" stroke-width="1.5" />
<text transform="translate(306.17,481.40) scale(1.1800,1)" font-size="10.5" font-weight="normal" fill="#2a2a2a" stroke="#2a2a2a" stroke-width="0.2" stroke-linejoin="round">1500</text>
<line x1="338.20" y1="445.40" x2="343.00" y2="445.40" stroke="#000" stroke-width="1.5" />
<text transform="translate(306.17,449.45) scale(1.1800,1)" font-size="10.5" font-weight="normal" fill="#2a2a2a" stroke="#2a2a2a" stroke-width="0.2" stroke-linejoin="round">2000</text>
<line x1="356.80" y1="573.20" x2="356.80" y2="578.20" stroke="#000" stroke-width="1.5" />
<line x1="385.20" y1="573.20" x2="385.20" y2="578.20" stroke="#000" stroke-width="1.5" />
<line x1="413.00" y1="573.20" x2="413.00" y2="578.20" stroke="#000" stroke-width="1.5" />
<line x1="441.70" y1="573.20" x2="441.70" y2="578.20" stroke="#000" stroke-width="1.5" />
<text transform="translate(297.20,546.40) rotate(-90) scale(0.7034,1)" font-size="14" font-weight="normal" fill="#222" stroke="#222" stroke-width="0.5" stroke-linejoin="round">TIGIT (MFI, MDS)</text>
<text transform="translate(360.92,585.78) rotate(-45) translate(-46.91,0)" font-size="11.53" fill="#2a2a2a" stroke="#2a2a2a" stroke-width="0.2" stroke-linejoin="round">NK alone</text>
<text transform="translate(389.49,587.54) rotate(-45) translate(-28.79,0)" font-size="12.23" fill="#2a2a2a" stroke="#2a2a2a" stroke-width="0.2" stroke-linejoin="round">HL60</text>
<text transform="translate(417.32,588.46) rotate(-45) translate(-62.21,0)" font-size="11.53" fill="#2a2a2a" stroke="#2a2a2a" stroke-width="0.2" stroke-linejoin="round">HL60+TriKE</text>
<text transform="translate(446.13,588.46) rotate(-45) translate(-62.79,0)" font-size="12.04" fill="#2a2a2a" stroke="#2a2a2a" stroke-width="0.2" stroke-linejoin="round">HL60+IL-15</text>
<circle cx="352.50" cy="546.00" r="3.4" fill="#ae1238"/>
<circle cx="362.00" cy="552.40" r="3.4" fill="#ae1238"/>
<circle cx="351.60" cy="561.00" r="3.4" fill="#ae1238"/>
<circle cx="361.10" cy="561.90" r="3.4" fill="#ae1238"/>
<circle cx="356.80" cy="567.10" r="3.4" fill="#ae1238"/>
<line x1="347.70" y1="558.40" x2="365.90" y2="558.40" stroke="#000" stroke-width="1.8" />
<line x1="356.80" y1="554.60" x2="356.80" y2="562.20" stroke="#000" stroke-width="1.6" />
<line x1="350.60" y1="554.60" x2="363.00" y2="554.60" stroke="#000" stroke-width="1.6" />
<line x1="350.60" y1="562.20" x2="363.00" y2="562.20" stroke="#000" stroke-width="1.6" />
<polygon points="377.50,528.10 384.50,528.10 381.00,535.10" fill="#4c256e"/>
<polygon points="386.20,525.50 393.20,525.50 389.70,532.50" fill="#4c256e"/>
<polygon points="386.20,540.20 393.20,540.20 389.70,547.20" fill="#4c256e"/>
<polygon points="376.70,548.00 383.70,548.00 380.20,555.00" fill="#4c256e"/>
<polygon points="381.50,536.50 388.50,536.50 385.00,543.50" fill="#4c256e"/>
<line x1="376.10" y1="539.40" x2="394.30" y2="539.40" stroke="#000" stroke-width="1.8" />
<line x1="385.20" y1="535.60" x2="385.20" y2="542.90" stroke="#000" stroke-width="1.6" />
<line x1="380.40" y1="535.60" x2="390.00" y2="535.60" stroke="#000" stroke-width="1.6" />
<line x1="380.40" y1="542.90" x2="390.00" y2="542.90" stroke="#000" stroke-width="1.6" />
<rect x="405.15" y="551.75" width="6.5" height="6.5" fill="#2a4584"/>
<rect x="414.55" y="553.45" width="6.5" height="6.5" fill="#2a4584"/>
<rect x="409.55" y="561.45" width="6.5" height="6.5" fill="#2a4584"/>
<rect x="405.75" y="558.75" width="6.5" height="6.5" fill="#2a4584"/>
<rect x="413.25" y="559.75" width="6.5" height="6.5" fill="#2a4584"/>
<line x1="403.70" y1="561.20" x2="422.30" y2="561.20" stroke="#000" stroke-width="1.8" />
<line x1="413.00" y1="559.00" x2="413.00" y2="563.50" stroke="#000" stroke-width="1.6" />
<line x1="410.00" y1="559.00" x2="416.00" y2="559.00" stroke="#000" stroke-width="1.6" />
<line x1="410.00" y1="563.50" x2="416.00" y2="563.50" stroke="#000" stroke-width="1.6" />
<rect x="433.05" y="489.35" width="6.5" height="6.5" fill="#64a443"/>
<rect x="441.95" y="485.25" width="6.5" height="6.5" fill="#64a443"/>
<rect x="437.15" y="493.75" width="6.5" height="6.5" fill="#64a443"/>
<rect x="442.55" y="511.65" width="6.5" height="6.5" fill="#64a443"/>
<rect x="433.05" y="518.35" width="6.5" height="6.5" fill="#64a443"/>
<line x1="432.00" y1="502.80" x2="450.20" y2="502.80" stroke="#000" stroke-width="1.8" />
<line x1="441.10" y1="497.00" x2="441.10" y2="508.60" stroke="#000" stroke-width="1.6" />
<line x1="436.60" y1="497.00" x2="445.60" y2="497.00" stroke="#000" stroke-width="1.6" />
<line x1="436.60" y1="508.60" x2="445.60" y2="508.60" stroke="#000" stroke-width="1.6" />
<text transform="translate(395.17,475.50) scale(1.0872,1)" font-size="10.3" font-weight="normal" fill="#2a2a2a" stroke="#2a2a2a" stroke-width="0.2" stroke-linejoin="round">p&lt;0.0001</text>
<line x1="400.30" y1="481.00" x2="438.60" y2="481.00" stroke="#000" stroke-width="1.7" />
<text transform="translate(366.97,514.40) scale(1.0931,1)" font-size="10.3" font-weight="normal" fill="#2a2a2a" stroke="#2a2a2a" stroke-width="0.2" stroke-linejoin="round">p≤0.01</text>
<line x1="354.20" y1="518.20" x2="381.20" y2="518.20" stroke="#000" stroke-width="1.7" />
<line x1="386.20" y1="518.20" x2="413.80" y2="518.20" stroke="#000" stroke-width="1.7" />
</svg>
</body></html>
